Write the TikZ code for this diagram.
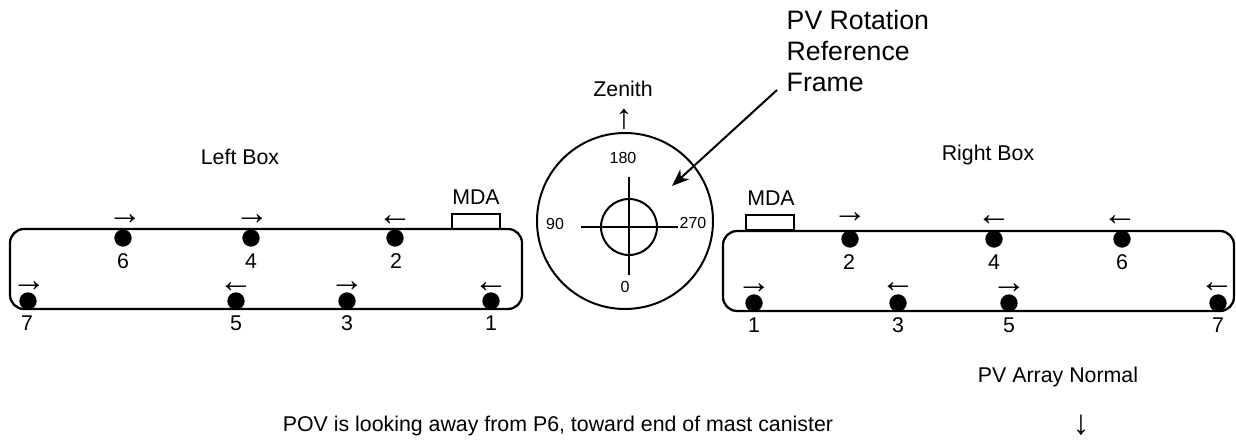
\documentclass[tikz,border=0pt]{standalone}
\usepackage{fontspec}
\setmainfont{Liberation Sans}
\usetikzlibrary{arrows.meta,positioning}
\begin{document}
\begin{tikzpicture}[
x=0.75pt, y=-0.75pt,
font=\fontsize{16pt}{19pt}\selectfont,
boxline/.style={draw, line width=1.7pt, rounded corners=10.5pt},
mdabox/.style={draw, line width=1.4pt, minimum width=36pt, minimum height=11.5pt, inner sep=0pt},
port/.style={circle, fill=black, minimum size=13pt, inner sep=0pt},
dir/.style={font=\fontsize{26pt}{26pt}\selectfont, inner sep=0pt},
ring/.style={draw, circle, line width=1.5pt, inner sep=0pt},
deg/.style={font=\fontsize{12pt}{14pt}\selectfont},
hair/.style={line width=1.5pt},
arr/.style={-{Stealth[length=13pt,width=10pt,inset=4pt]}, line width=1.5pt}
]
\useasboundingbox (0,0) rectangle (1236,441);

% Left box
\node at (240,157) (lefttitle) {Left Box};
\draw[boxline] (10,229) rectangle (522,309);
\node[mdabox] (lmda) at (476,221.5) {};
\node (lmdatxt) at (476,197) {MDA};

\node[port] (l6) at (123,238) {};
\node[port] (l4) at (251,238) {};
\node[port] (l2) at (395,238) {};
\node[port] (l7) at (28,301) {};
\node[port] (l5) at (236,301) {};
\node[port] (l3) at (347,301) {};
\node[port] (l1) at (491,301) {};

\node[dir] at (125,220) {→};
\node[dir] at (252,220) {→};
\node[dir] at (395,221) {←};
\node[dir] at (29,287) {→};
\node[dir] at (236,288) {←};
\node[dir] at (347,287) {→};
\node[dir] at (491,288) {←};

\node at (123,261) {6};
\node at (251,261) {4};
\node at (396,261) {2};
\node at (27,323) {7};
\node at (236,323) {5};
\node at (347,323) {3};
\node at (491,323) {1};

% Rotation frame
\node[ring, minimum size=132pt] (frame) at (625,221) {};
\node[ring, minimum size=42pt] (hub) at (629,227) {};
\coordinate (hubw) at (581,227);
\coordinate (hube) at (678,227);
\coordinate (hubn) at (629,177);
\coordinate (hubs) at (629,275);
\draw[hair] (hubw) -- (hube);
\draw[hair] (hubn) -- (hubs);
\node[deg] at (623,158) {180};
\node[deg] at (555,224) {90};
\node[deg] at (693,223) {270};
\node[deg] at (625,287) {0};
\node at (623,89) (zenith) {Zenith};
\node[dir] at (624,119) {↑};

% Callout
\node[anchor=west, align=left, font=\fontsize{20pt}{23.5pt}\selectfont] (callout) at (782,51) {PV Rotation\\Reference\\Frame};
\coordinate (calloutend) at (777,90);
\coordinate (callouttip) at (672,186);
\draw[arr] (calloutend) -- (callouttip);

% Right box
\node at (988,155) (righttitle) {Right Box};
\draw[boxline] (723,231) rectangle (1234,311);
\node[mdabox] (rmda) at (770,222.5) {};
\node (rmdatxt) at (771,198) {MDA};

\node[port] (r2) at (850,239) {};
\node[port] (r4) at (994,239) {};
\node[port] (r6) at (1122,239) {};
\node[port] (r1) at (754,303) {};
\node[port] (r3) at (898,303) {};
\node[port] (r5) at (1009,303) {};
\node[port] (r7) at (1218,303) {};

\node[dir] at (850,218) {→};
\node[dir] at (994,221) {←};
\node[dir] at (1120,221) {←};
\node[dir] at (754,289) {→};
\node[dir] at (898,288) {←};
\node[dir] at (1009,289) {→};
\node[dir] at (1217,288) {←};

\node at (849,262) {2};
\node at (994,262) {4};
\node at (1122,262) {6};
\node at (754,325) {1};
\node at (898,325) {3};
\node at (1009,325) {5};
\node at (1218,325) {7};

% Bottom notes
\node at (1058,377) (normal) {PV Array Normal};
\node[dir] at (1081,425) {↓};
\node at (558,426) (pov) {POV is looking away from P6, toward end of mast canister};

\end{tikzpicture}
\end{document}
